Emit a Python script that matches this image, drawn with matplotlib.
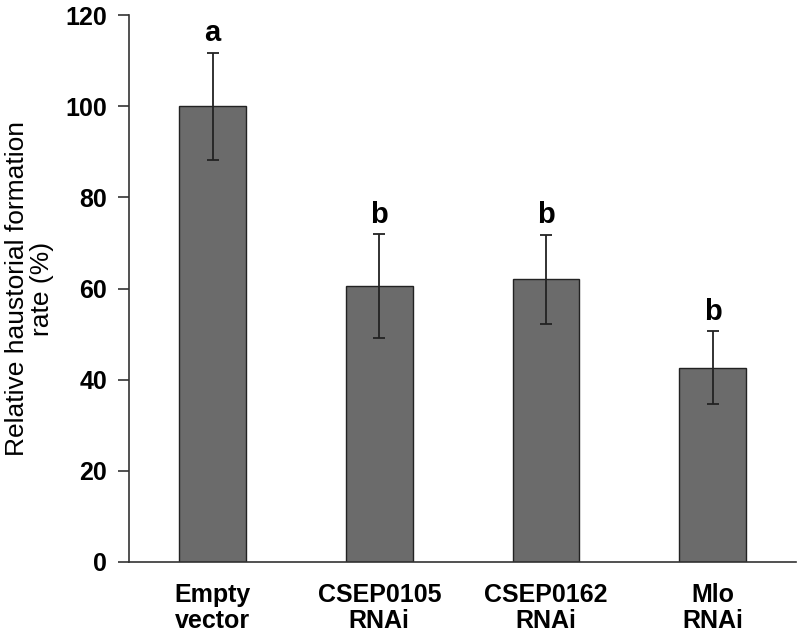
import matplotlib
matplotlib.use("Agg")
import matplotlib.pyplot as plt

plt.rcParams['font.family'] = ['Liberation Sans', 'DejaVu Sans']

# data
groups = ["Empty\nvector", "CSEP0105\nRNAi", "CSEP0162\nRNAi", "Mlo\nRNAi"]
rate = [100.0, 60.5, 62.0, 42.6]
err = [11.8, 11.4, 9.8, 8.0]
letters = ["a", "b", "b", "b"]

fig = plt.figure(figsize=(7.97, 6.35), dpi=100)
ax = fig.add_axes([0.162, 0.115, 0.837, 0.861])

x = list(range(len(groups)))
ax.bar(x, rate, width=0.4, color="#6b6b6b", edgecolor="#222222", linewidth=1.0,
       yerr=err, error_kw=dict(ecolor="#222222", elinewidth=1.3, capsize=4.5, capthick=1.3))

for xi, v, e, l in zip(x, rate, err, letters):
    ax.text(xi, v + e + 1.2, l, ha="center", va="bottom", fontsize=21, fontweight="bold")

ax.set_xlim(-0.5, 3.5)
ax.set_ylim(0, 120)
ax.set_yticks(range(0, 121, 20))
ax.set_xticks(x)
ax.set_xticklabels(groups, fontsize=18, fontweight="bold", linespacing=1.12)
for t in ax.get_yticklabels():
    t.set_fontsize(18)
    t.set_fontweight("bold")

ax.tick_params(axis="y", direction="out", length=8, width=1.2, color="#333333", pad=8)
ax.tick_params(axis="x", length=0, pad=15)
ax.spines["top"].set_visible(False)
ax.spines["right"].set_visible(False)
ax.spines["left"].set_color("#333333")
ax.spines["bottom"].set_color("#333333")
ax.spines["left"].set_linewidth(1.2)
ax.spines["bottom"].set_linewidth(1.2)

ax.set_ylabel("Relative haustorial formation\nrate (%)", fontsize=19,
              linespacing=1.05, labelpad=8)

fig.savefig("out.png", dpi=100)
